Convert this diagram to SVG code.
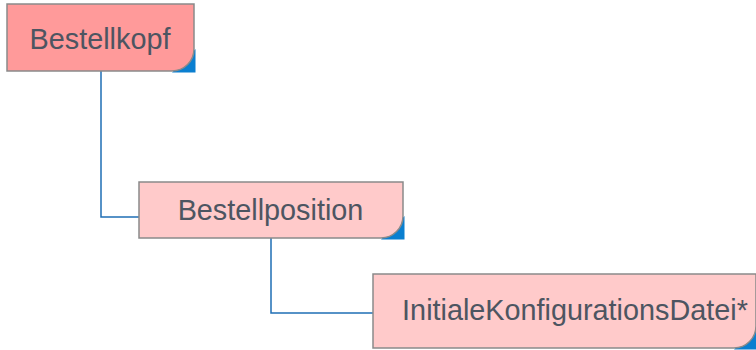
<svg xmlns="http://www.w3.org/2000/svg" width="756" height="350" viewBox="0 0 756 350">
<style>
.box{stroke:#8a8a8a;stroke-width:1.5}
.c1{fill:#ff9a9a}
.c2{fill:#ffcaca}
.corner{fill:#0a7fd0}
.lbl{font-family:"Liberation Sans",Arial,sans-serif;font-size:28.8px;fill:#4d5561;text-anchor:middle}
.conn{fill:none;stroke:#1f6fb5;stroke-width:1.5}
</style>
<rect width="756" height="350" fill="#ffffff"/>
<g id="connectors">
<path class="conn" d="M101 71 V217 H139"/>
<path class="conn" d="M271 238 V313 H373"/>
</g>
<g id="node-bestellkopf">
<path class="corner" d="M195.5 49 V72.5 H172 Z"/>
<path class="box c1" d="M7 4 H194 V49 A22 22 0 0 1 172 71 H7 Z"/>
<text class="lbl" x="100" y="49">Bestellkopf</text>
</g>
<g id="node-bestellposition">
<path class="corner" d="M404.5 216 V239.5 H381 Z"/>
<path class="box c2" d="M139 182 H403 V216 A22 22 0 0 1 381 238 H139 Z"/>
<text class="lbl" x="270.5" y="220">Bestellposition</text>
</g>
<g id="node-initiale">
<path class="corner" d="M757 326 V349.5 H734 Z"/>
<path class="box c2" d="M373 274 H756 V326 A22 22 0 0 1 734 348 H373 Z"/>
<text class="lbl" x="575" y="320">InitialeKonfigurationsDatei*</text>
</g>
</svg>
